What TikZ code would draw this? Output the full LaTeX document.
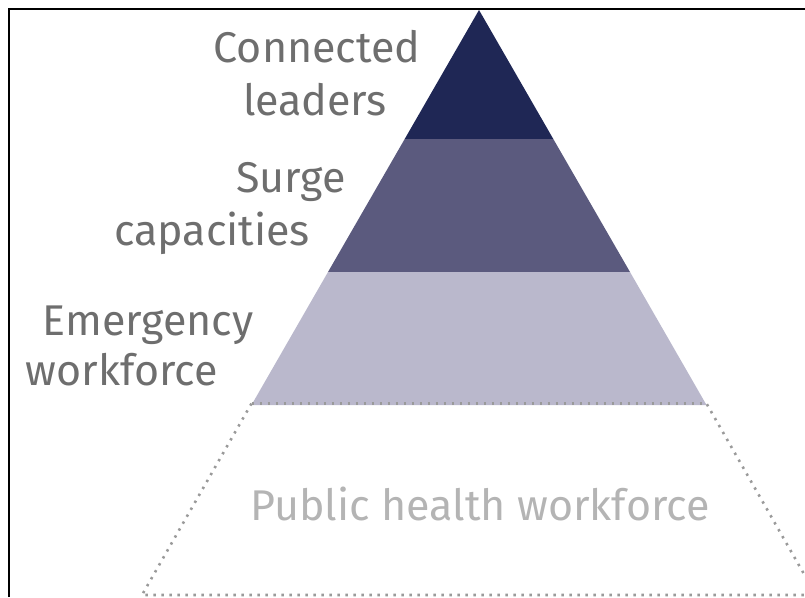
\documentclass[tikz,border=0pt]{standalone}
\usepackage{fontspec}
\setmainfont{Fira Sans}
\definecolor{navy}{HTML}{1F2755}
\definecolor{midband}{HTML}{5B5A7E}
\definecolor{lightband}{HTML}{BAB8CC}
\definecolor{labelgray}{HTML}{6E6E6E}
\definecolor{palegray}{HTML}{B4B4B4}
\definecolor{dotgray}{HTML}{9A9A9A}
\tikzset{
  lbl/.style={anchor=base, inner sep=0pt, text=labelgray, font=\fontsize{43}{43}\selectfont},
  baselbl/.style={anchor=base, inner sep=0pt, text=palegray, font=\fontsize{43}{43}\selectfont},
  dotline/.style={draw=dotgray, line width=2.6pt, dash pattern=on 2.4pt off 5.6pt},
  frameline/.style={draw=black, line width=2pt}
}
\begin{document}
\begin{tikzpicture}[x=1pt, y=-1pt]
\useasboundingbox (0,0) rectangle (805,597);
\begin{scope}
\clip (0,0) rectangle (805,597);
% pyramid corners
\coordinate (apex) at (479,10);
\coordinate (l1) at (404.7,139); \coordinate (r1) at (553.3,139);
\coordinate (l2) at (328,272);   \coordinate (r2) at (630,272);
\coordinate (l3) at (251.5,405); \coordinate (r3) at (706.5,405);
\coordinate (l4) at (142,595);   \coordinate (r4) at (816,595);
\fill[navy] (apex) -- (r1) -- (l1) -- cycle;
\fill[midband] (l1) -- (r1) -- (r2) -- (l2) -- cycle;
\fill[lightband] (l2) -- (r2) -- (r3) -- (l3) -- cycle;
% dotted base tier
\draw[dotline] ([yshift=1.5pt]l3) -- ([yshift=1.5pt]r3);
\draw[dotline] ([yshift=1.5pt]l3) -- (l4) -- (r4) -- ([yshift=1.5pt]r3);
% frame (left and top only)
\draw[frameline] (9,597) -- (9,9) -- (805,9);
\end{scope}
% labels
\node[lbl] (c1) at (317,62) {Connected};
\node[lbl] (c2) at (315,115) {leaders};
\node[lbl] (s1) at (291,192) {Surge};
\node[lbl] (s2) at (212,245) {capacities};
\node[lbl] (e1) at (148,335) {Emergency};
\node[lbl] (e2) at (122,385) {workforce};
\node[baselbl] (p1) at (480,520) {Public health workforce};
\end{tikzpicture}
\end{document}
